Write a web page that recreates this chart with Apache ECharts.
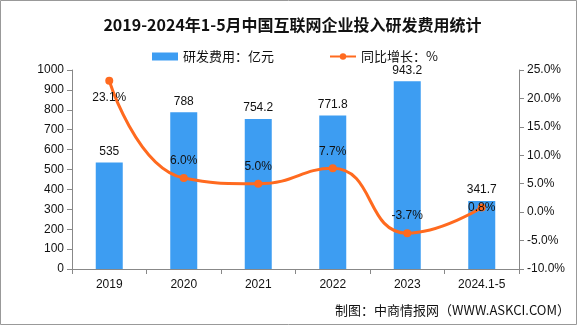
<!DOCTYPE html>
<html>
<head>
<meta charset="utf-8">
<script src="https://cdn.jsdelivr.net/npm/echarts@6/dist/echarts.min.js"></script>
<style>html,body{margin:0;padding:0;background:#fff}#c{width:585px;height:327px}</style>
</head>
<body>
<div id="c"></div>
<script>
const categories = ['2019', '2020', '2021', '2022', '2023', '2024.1-5'];
const rdExpense = [535, 788, 754.2, 771.8, 943.2, 341.7];
const growthRate = [23.1, 6.0, 5.0, 7.7, -3.7, 0.8];
const leftTicks = { min: 0, max: 1000, interval: 100 };
const rightTicks = { min: -10, max: 25, interval: 5 };

const growthLabelPos = ['bottom', 'top', 'top', 'top', 'top', 'inside'];
const txtFont = '"Liberation Sans", "Noto Sans CJK SC", sans-serif';
const cjkFont = '"Noto Sans CJK SC", sans-serif';

const chart = echarts.init(document.getElementById('c'), null, { renderer: 'canvas' });
chart.setOption({
  animation: false,
  backgroundColor: '#fff',
  title: {
    text: '2019-2024年1-5月中国互联网企业投入研发费用统计',
    left: 'center',
    top: 12,
    textStyle: { fontFamily: cjkFont, fontSize: 16, fontWeight: 'bold', color: '#111' }
  },
  legend: {
    left: 147,
    top: 45,
    itemWidth: 26,
    itemHeight: 8,
    itemGap: 55,
    textStyle: { fontFamily: cjkFont, fontSize: 13, color: '#111' },
    data: [
      { name: '研发费用：亿元', icon: 'rect' },
      { name: '同比增长：%' }
    ]
  },
  grid: { left: 72, right: 66, top: 70, bottom: 58 },
  xAxis: {
    type: 'category',
    data: categories,
    axisLine: { lineStyle: { color: '#888' } },
    axisTick: { show: true, alignWithLabel: false, lineStyle: { color: '#888' } },
    axisLabel: { color: '#111', fontFamily: txtFont, fontSize: 12, margin: 10 }
  },
  yAxis: [
    {
      type: 'value',
      min: leftTicks.min, max: leftTicks.max, interval: leftTicks.interval,
      axisLine: { show: true, lineStyle: { color: '#888' } },
      axisTick: { show: true, lineStyle: { color: '#888' } },
      splitLine: { show: false },
      axisLabel: { color: '#111', fontFamily: txtFont, fontSize: 12, formatter: v => String(v) }
    },
    {
      type: 'value',
      min: rightTicks.min, max: rightTicks.max, interval: rightTicks.interval,
      axisLine: { show: true, lineStyle: { color: '#888' } },
      axisTick: { show: true, lineStyle: { color: '#888' } },
      splitLine: { show: false },
      axisLabel: { color: '#111', fontFamily: txtFont, fontSize: 12, formatter: v => v.toFixed(1) + '%' }
    }
  ],
  series: [
    {
      name: '研发费用：亿元',
      type: 'bar',
      yAxisIndex: 0,
      barWidth: 27,
      data: rdExpense,
      itemStyle: { color: '#3D9DF2' },
      label: { show: true, position: 'top', distance: 5, color: '#111', fontFamily: txtFont, fontSize: 12 }
    },
    {
      name: '同比增长：%',
      type: 'line',
      yAxisIndex: 1,
      smooth: 0.5,
      symbol: 'circle',
      symbolSize: 8,
      lineStyle: { color: '#FF6A1F', width: 3 },
      itemStyle: { color: '#FF6A1F' },
      data: growthRate.map((v, i) => ({
        value: v,
        label: { position: growthLabelPos[i] }
      })),
      label: {
        show: true, distance: 7, color: '#111', fontFamily: txtFont, fontSize: 12,
        formatter: p => p.value.toFixed(1) + '%'
      },
      z: 5
    }
  ],
  graphic: [
    {
      type: 'rect',
      shape: { x: 0.5, y: 0.5, width: 576, height: 324 },
      style: { fill: 'none', stroke: '#999', lineWidth: 1 },
      silent: true
    },
    {
      type: 'text',
      right: 15,
      top: 304,
      style: {
        text: '制图：中商情报网（WWW.ASKCI.COM）',
        font: '13px "Noto Sans CJK SC", sans-serif',
        fill: '#111'
      }
    }
  ]
});
</script>
</body>
</html>
